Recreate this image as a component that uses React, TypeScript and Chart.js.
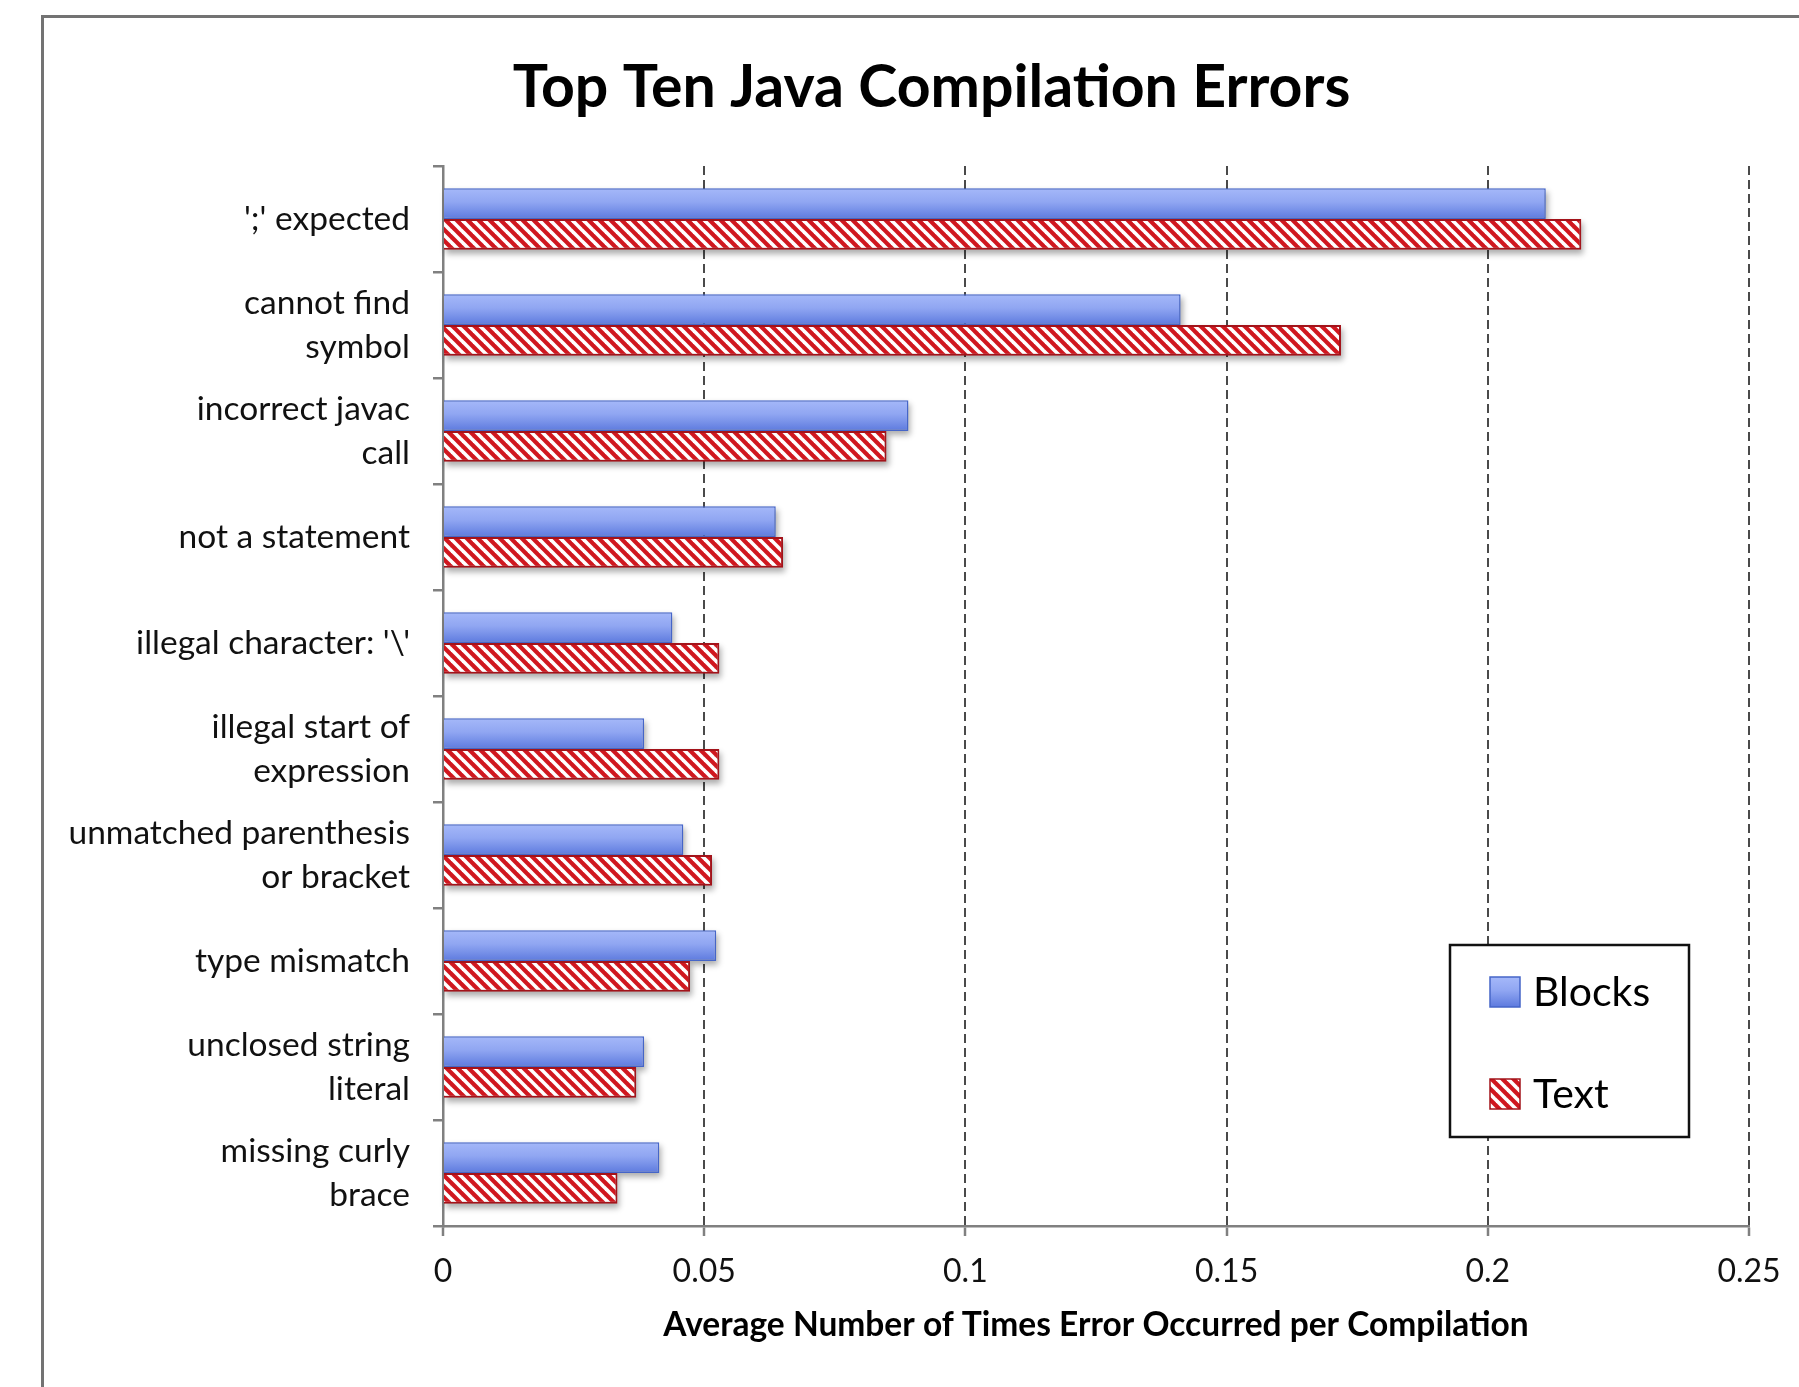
import React, { useEffect, useRef } from "react";
import { Chart, registerables } from "chart.js";

Chart.register(...registerables);

const categories: (string | string[])[] = [
  "';' expected",
  ["cannot find", "symbol"],
  ["incorrect javac", "call"],
  "not a statement",
  "illegal character: '\\'",
  ["illegal start of", "expression"],
  ["unmatched parenthesis", "or bracket"],
  "type mismatch",
  ["unclosed string", "literal"],
  ["missing curly", "brace"],
];

const blocksValues = [0.2111, 0.1412, 0.0891, 0.0637, 0.0439, 0.0385, 0.046, 0.0523, 0.0385, 0.0414];
const textValues = [0.2179, 0.1719, 0.0849, 0.0651, 0.0529, 0.0529, 0.0515, 0.0473, 0.037, 0.0334];

const seriesNames = ["Blocks", "Text"];
const xTickValues = [0, 0.05, 0.1, 0.15, 0.2, 0.25];
const xTickLabels = ["0", "0.05", "0.1", "0.15", "0.2", "0.25"];

const chartTitle = "Top Ten Java Compilation Errors";
const xAxisTitle = "Average Number of Times Error Occurred per Compilation";

const FONT = "Lato";

function makeHatch(): CanvasPattern | string {
  const p = 11;
  const c = document.createElement("canvas");
  c.width = p;
  c.height = p;
  const g = c.getContext("2d");
  if (!g) return "#d0161e";
  g.fillStyle = "#d0171f";
  g.fillRect(0, 0, p, p);
  g.strokeStyle = "#ffffff";
  g.lineWidth = 3.6;
  for (let k = -1; k <= 1; k++) {
    g.beginPath();
    g.moveTo(k * p - 2, -2);
    g.lineTo(k * p + p + 2, p + 2);
    g.stroke();
  }
  const pat = g.createPattern(c, "repeat");
  return pat || "#d0161e";
}

function blueGradient(ctx: CanvasRenderingContext2D, top: number, bottom: number) {
  const g = ctx.createLinearGradient(0, top, 0, bottom);
  g.addColorStop(0, "#a5b8f9");
  g.addColorStop(0.45, "#90a6f2");
  g.addColorStop(1, "#5d7ade");
  return g;
}

const titlePlugin = {
  id: "centeredTitle",
  afterDraw(chart: any) {
    const ctx: CanvasRenderingContext2D = chart.ctx;
    ctx.save();
    ctx.fillStyle = "#000000";
    ctx.font = `bold 59px ${FONT}`;
    ctx.textAlign = "center";
    ctx.textBaseline = "middle";
    ctx.fillText(chartTitle, chart.width / 2 + 32, 88);
    ctx.restore();
  },
};

const barStylePlugin = {
  id: "barStyle",
  beforeDatasetsDraw(chart: any) {
    const ctx: CanvasRenderingContext2D = chart.ctx;
    ctx.save();
    const off = 10000;
    ctx.shadowColor = "rgba(0,0,0,0.32)";
    ctx.shadowBlur = 6;
    ctx.shadowOffsetX = off + 2;
    ctx.shadowOffsetY = 4;
    ctx.fillStyle = "#000";
    chart.data.datasets.forEach((_: any, di: number) => {
      const meta = chart.getDatasetMeta(di);
      meta.data.forEach((el: any) => {
        const { x, y, base, height } = el.getProps(["x", "y", "base", "height"], true);
        const left = Math.min(x, base);
        const w = Math.abs(x - base);
        ctx.fillRect(left - off, y - height / 2, w, height);
      });
    });
    ctx.restore();
    const meta0 = chart.getDatasetMeta(0);
    meta0.data.forEach((el: any) => {
      const { y, height } = el.getProps(["y", "height"], true);
      const g = blueGradient(ctx, y - height / 2, y + height / 2);
      el.options = Object.assign({}, el.options, { backgroundColor: g });
    });
  },
};

const boxLegendPlugin = {
  id: "boxLegend",
  afterDraw(chart: any) {
    const ctx: CanvasRenderingContext2D = chart.ctx;
    const area = chart.chartArea;
    const w = 239;
    const h = 192;
    const x = area.right - 60 - w;
    const y = area.bottom - 89 - h;
    ctx.save();
    ctx.fillStyle = "#ffffff";
    ctx.fillRect(x, y, w, h);
    ctx.lineWidth = 2.5;
    ctx.strokeStyle = "#111111";
    ctx.strokeRect(x, y, w, h);
    chart.data.datasets.forEach((ds: any, i: number) => {
      const cy = y + 47 + i * 102;
      const sx = x + 40;
      const sz = 30;
      const top = cy - sz / 2;
      ctx.fillStyle = i === 0 ? blueGradient(ctx, top, top + sz) : ds.backgroundColor;
      ctx.fillRect(sx, top, sz, sz);
      ctx.lineWidth = 1.5;
      ctx.strokeStyle = ds.borderColor;
      ctx.strokeRect(sx, top, sz, sz);
      ctx.fillStyle = "#000000";
      ctx.font = `41px ${FONT}`;
      ctx.textAlign = "left";
      ctx.textBaseline = "alphabetic";
      ctx.fillText(ds.label, sx + 43, cy + 14);
    });
    ctx.restore();
  },
};

export default function App() {
  const canvasRef = useRef<HTMLCanvasElement | null>(null);

  useEffect(() => {
    const canvas = canvasRef.current;
    if (!canvas) return;
    const hatch = makeHatch();
    const chart = new Chart(canvas, {
      type: "bar",
      data: {
        labels: categories,
        datasets: [
          {
            label: seriesNames[0],
            data: blocksValues,
            backgroundColor: "#90a6f2",
            borderColor: "#4565c8",
            borderWidth: 1.5,
            categoryPercentage: 0.58,
            barPercentage: 1.0,
          },
          {
            label: seriesNames[1],
            data: textValues,
            backgroundColor: hatch as any,
            borderColor: "#a3131a",
            borderWidth: 2,
            categoryPercentage: 0.58,
            barPercentage: 1.0,
          },
        ],
      },
      options: {
        indexAxis: "y",
        responsive: false,
        animation: false,
        events: [],
        layout: { padding: { left: 40, right: 50, top: 166, bottom: 0 } },
        plugins: {
          legend: { display: false },
          tooltip: { enabled: false },
          title: { display: false },
        },
        scales: {
          x: {
            type: "linear",
            min: 0,
            max: 0.25,
            afterBuildTicks: (scale: any) => {
              scale.ticks = xTickValues.map((v) => ({ value: v }));
            },
            afterFit: (scale: any) => {
              scale.height = 161;
            },
            ticks: {
              callback: (_v: any, i: number) => xTickLabels[i],
              color: "#111111",
              font: { family: FONT, size: 32 },
              padding: 16,
              maxRotation: 0,
            },
            grid: {
              display: true,
              drawOnChartArea: true,
              drawTicks: true,
              tickLength: 10,
              lineWidth: 2,
              color: (c: any) => (c.index === 0 ? "rgba(0,0,0,0)" : "#4a4a4a"),
              tickColor: "#808080",
              tickWidth: 2.5,
              tickBorderDash: [],
            },
            border: { display: true, color: "#808080", width: 2.5, dash: [9, 5] },
            title: {
              display: true,
              text: xAxisTitle,
              color: "#000000",
              font: { family: FONT, size: 33.5, weight: "bold" },
              padding: { top: 0, bottom: 42 },
            },
          },
          y: {
            type: "category",
            afterFit: (scale: any) => {
              scale.width = 403;
            },
            ticks: {
              color: "#111111",
              font: { family: FONT, size: 33.5, lineHeight: 1.31 },
              padding: 23,
              autoSkip: false,
            },
            grid: {
              display: true,
              offset: true,
              drawOnChartArea: false,
              drawTicks: true,
              tickLength: 10,
              color: "#808080",
              lineWidth: 2.5,
              tickColor: "#808080",
              tickWidth: 2.5,
            },
            border: { display: true, color: "#808080", width: 2.5 },
          },
        },
      },
      plugins: [barStylePlugin, boxLegendPlugin, titlePlugin],
    } as any);
    return () => {
      chart.destroy();
    };
  }, []);

  return (
    <div
      style={{
        position: "fixed",
        left: 0,
        top: 0,
        width: 1799,
        height: 1387,
        background: "#ffffff",
        overflow: "hidden",
      }}
    >
      <div
        style={{
          position: "absolute",
          left: 41,
          top: 15,
          width: 2000,
          height: 2000,
          borderLeft: "3px solid #737373",
          borderTop: "3px solid #737373",
        }}
      />
      <canvas
        ref={canvasRef}
        width={1799}
        height={1387}
        style={{ position: "absolute", left: 0, top: 0, width: 1799, height: 1387 }}
      />
    </div>
  );
}
